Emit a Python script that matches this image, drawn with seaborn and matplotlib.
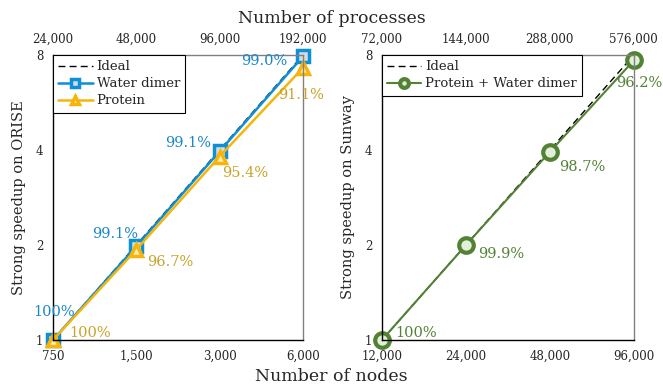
import matplotlib
matplotlib.use("Agg")
import matplotlib.pyplot as plt
import seaborn as sns

sns.set_theme(style="white")
plt.rcParams["font.family"] = ["DejaVu Serif"]

# %% Data
orise_nodes = [750, 1500, 3000, 6000]
orise_procs = ["24,000", "48,000", "96,000", "192,000"]
ideal_orise = [1, 2, 4, 8]
water_speedup = [1.0, 1.982, 3.964, 7.92]
water_eff = ["100%", "99.1%", "99.1%", "99.0%"]
protein_speedup = [1.0, 1.934, 3.816, 7.288]
protein_eff = ["100%", "96.7%", "95.4%", "91.1%"]

sunway_nodes = [12000, 24000, 48000, 96000]
sunway_procs = ["72,000", "144,000", "288,000", "576,000"]
ideal_sunway = [1, 2, 4, 8]
combo_speedup = [1.0, 1.998, 3.948, 7.696]
combo_eff = ["100%", "99.9%", "98.7%", "96.2%"]

node_labels_orise = ["750", "1,500", "3,000", "6,000"]
node_labels_sunway = ["12,000", "24,000", "48,000", "96,000"]

blue = "#0f8fd6"
blue_txt = "#1a86c8"
gold = "#f5b50a"
gold_txt = "#c9a227"
green = "#548235"
ink = "#262626"

fig = plt.figure(figsize=(6.63, 3.86), dpi=100)
ax1 = fig.add_axes([0.0799, 0.1192, 0.377, 0.738])
ax2 = fig.add_axes([0.576, 0.1192, 0.380, 0.738])


def style_axis(ax, nodes, node_labels, procs, ylabel):
    ax.set_xscale("log", base=2)
    ax.set_yscale("log", base=2)
    ax.set_xlim(nodes[0], nodes[-1])
    ax.set_ylim(1, 8)
    ax.minorticks_off()
    ax.set_xticks(nodes)
    ax.set_xticklabels(node_labels)
    ax.set_yticks([1, 2, 4, 8])
    ax.set_yticklabels(["1", "2", "4", "8"])
    ax.tick_params(axis="both", length=0, labelsize=8.5, colors=ink)
    ax.tick_params(axis="x", pad=7)
    ax.tick_params(axis="y", pad=7)
    ax.set_ylabel(ylabel, fontsize=10.5, color=ink, labelpad=7)
    ax.set_xlabel("")
    for s in ["left", "bottom"]:
        ax.spines[s].set_color("black")
        ax.spines[s].set_linewidth(1.0)
    for s in ["top", "right"]:
        ax.spines[s].set_color("#808080")
        ax.spines[s].set_linewidth(1.0)
    top = ax.twiny()
    top.set_xscale("log", base=2)
    top.set_xlim(nodes[0], nodes[-1])
    top.minorticks_off()
    top.set_xticks(nodes)
    top.set_xticklabels(procs)
    top.tick_params(axis="x", length=0, labelsize=8.5, pad=7, colors=ink)
    for s in top.spines.values():
        s.set_visible(False)


def annotate(ax, xs, ys, labels, offsets, ha, color):
    for x, y, t, off, h in zip(xs, ys, labels, offsets, ha):
        ax.annotate(t, (x, y), xytext=off, textcoords="offset points",
                    ha=h, va="center", fontsize=10.5, color=color)


def add_legend(ax):
    leg = ax.legend(loc="upper left", borderaxespad=0, fontsize=9.5,
                    handlelength=2.6, frameon=True, fancybox=False,
                    edgecolor="black", framealpha=1, borderpad=0.4,
                    labelspacing=0.3, handletextpad=0.3, markerscale=0.6)
    leg.get_frame().set_linewidth(0.8)
    for t in leg.get_texts():
        t.set_color(ink)


# %% ORISE panel
sns.lineplot(x=orise_nodes, y=ideal_orise, ax=ax1, color="black", lw=1.0,
             linestyle=(0, (5, 3)), label="Ideal", clip_on=False)
sns.lineplot(x=orise_nodes, y=water_speedup, ax=ax1, color=blue, lw=1.8,
             marker="s", markersize=9, markeredgewidth=2.5,
             markerfacecolor="#d6dce5", markeredgecolor=blue,
             label="Water dimer", clip_on=False)
sns.lineplot(x=orise_nodes, y=protein_speedup, ax=ax1, color=gold, lw=1.8,
             marker="^", markersize=9, markeredgewidth=2.5,
             markerfacecolor="#fde9b5", markeredgecolor=gold,
             label="Protein", clip_on=False)
style_axis(ax1, orise_nodes, node_labels_orise, orise_procs,
           "Strong speedup on ORISE")
annotate(ax1, orise_nodes, water_speedup, water_eff,
         [(1, 20), (1.5, 8.6), (-6, 6), (-11, -3.3)],
         ["center", "right", "right", "right"], blue_txt)
annotate(ax1, orise_nodes, protein_speedup, protein_eff,
         [(11.5, 5), (8, -8.6), (1.5, -11.5), (-18, -19.5)],
         ["left", "left", "left", "left"], gold_txt)
add_legend(ax1)

# %% Sunway panel
sns.lineplot(x=sunway_nodes, y=ideal_sunway, ax=ax2, color="black", lw=1.0,
             linestyle=(0, (5, 3)), label="Ideal", clip_on=False)
sns.lineplot(x=sunway_nodes, y=combo_speedup, ax=ax2, color=green, lw=1.5,
             marker="o", markersize=10.5, markeredgewidth=3,
             markerfacecolor="#e2efd9", markeredgecolor=green,
             label="Protein + Water dimer", clip_on=False)
style_axis(ax2, sunway_nodes, node_labels_sunway, sunway_procs,
           "Strong speedup on Sunway")
annotate(ax2, sunway_nodes, combo_speedup, combo_eff,
         [(9.5, 5), (8.6, -6.5), (6.5, -11), (-13, -16.5)],
         ["left", "left", "left", "left"], green)
add_legend(ax2)

fig.text(0.5, 0.953, "Number of processes", ha="center", va="center",
         fontsize=12.5, color=ink)
fig.text(0.5, 0.025, "Number of nodes", ha="center", va="center",
         fontsize=12.5, color=ink)

fig.savefig("out.png", dpi=100)
